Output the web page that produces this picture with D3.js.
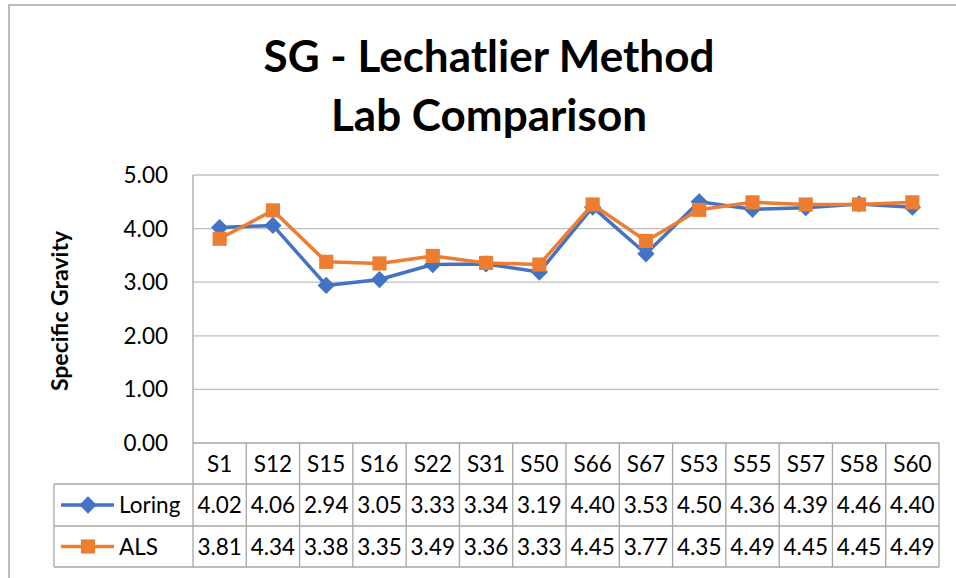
<!DOCTYPE html>
<html>
<head>
<meta charset="utf-8">
<script src="https://cdn.jsdelivr.net/npm/d3@7"></script>
<style>
  body { margin: 0; background: #fff; }
  svg { font-family: Lato, "Open Sans", sans-serif; }
</style>
</head>
<body>
<svg width="956" height="578"></svg>
<script>
var samples = ["S1", "S12", "S15", "S16", "S22", "S31", "S50", "S66", "S67", "S53", "S55", "S57", "S58", "S60"];
var loring = [4.02, 4.06, 2.94, 3.05, 3.33, 3.34, 3.19, 4.40, 3.53, 4.50, 4.36, 4.39, 4.46, 4.40];
var als = [3.81, 4.34, 3.38, 3.35, 3.49, 3.36, 3.33, 4.45, 3.77, 4.35, 4.49, 4.45, 4.45, 4.49];
var yTicks = [0, 1, 2, 3, 4, 5];

var series = [
  { name: "Loring", values: loring, color: "#4472C4", marker: "diamond" },
  { name: "ALS", values: als, color: "#ED7D31", marker: "square" }
];

var svg = d3.select("svg");
var plotL = 193, plotR = 939, plotT = 175, plotB = 443;
var rowY = [443, 484, 526, 567];
var legendLeft = 54;
var gridColor = "#bfbfbf", tableColor = "#a6a6a6";
var fs = 22.5;

// chart border (runs off the right and bottom edge)
svg.append("rect")
  .attr("x", 9).attr("y", 5)
  .attr("width", 1000).attr("height", 1000)
  .attr("fill", "none")
  .attr("stroke", "#a6a6a6")
  .attr("stroke-width", 1.5);

// title
var title = svg.append("text")
  .attr("text-anchor", "middle")
  .attr("font-weight", "bold")
  .attr("font-size", 44)
  .attr("fill", "#000");
title.append("tspan").attr("x", 489).attr("y", 72).text("SG - Lechatlier Method");
title.append("tspan").attr("x", 489).attr("y", 131).text("Lab Comparison");

var x = d3.scaleBand().domain(samples).range([plotL, plotR]);
var y = d3.scaleLinear().domain([0, 5]).range([plotB, plotT]);

// gridlines
svg.append("g")
  .selectAll("line")
  .data(yTicks.filter(function(d) { return d > 0; }))
  .enter()
  .append("line")
  .attr("x1", plotL).attr("x2", plotR)
  .attr("y1", function(d) { return y(d); })
  .attr("y2", function(d) { return y(d); })
  .attr("stroke", gridColor)
  .attr("stroke-width", 1.3);

// y axis labels
svg.append("g")
  .selectAll("text")
  .data(yTicks)
  .enter()
  .append("text")
  .attr("x", 168)
  .attr("y", function(d) { return y(d) + 8; })
  .attr("text-anchor", "end")
  .attr("font-size", fs)
  .text(function(d) { return d3.format(".2f")(d); });

svg.append("text")
  .attr("transform", "translate(68,311) rotate(-90)")
  .attr("text-anchor", "middle")
  .attr("font-weight", "bold")
  .attr("font-size", 23)
  .text("Specific Gravity");

// table lines
var tbl = svg.append("g").attr("stroke", tableColor).attr("stroke-width", 1.3);
tbl.append("line").attr("x1", plotL).attr("x2", plotL).attr("y1", plotT).attr("y2", rowY[3]);
tbl.append("line").attr("x1", plotL).attr("x2", plotR).attr("y1", rowY[0]).attr("y2", rowY[0]);
[1, 2, 3].forEach(function(i) {
  tbl.append("line").attr("x1", legendLeft).attr("x2", plotR).attr("y1", rowY[i]).attr("y2", rowY[i]);
});
tbl.append("line").attr("x1", legendLeft).attr("x2", legendLeft).attr("y1", rowY[1]).attr("y2", rowY[3]);
tbl.selectAll(".col")
  .data(samples)
  .enter()
  .append("line")
  .attr("class", "col")
  .attr("x1", function(d) { return x(d) + x.bandwidth(); })
  .attr("x2", function(d) { return x(d) + x.bandwidth(); })
  .attr("y1", rowY[0]).attr("y2", rowY[3]);

// header row
svg.append("g")
  .selectAll("text")
  .data(samples)
  .enter()
  .append("text")
  .attr("x", function(d) { return x(d) + x.bandwidth() / 2; })
  .attr("y", (rowY[0] + rowY[1]) / 2 + 8)
  .attr("text-anchor", "middle")
  .attr("font-size", fs)
  .text(function(d) { return d; });

function drawMarker(g, type, color, size) {
  if (type === "diamond") {
    g.append("path")
      .attr("d", d3.symbol().type(d3.symbolDiamond2).size(size)())
      .attr("fill", color);
  } else {
    var w = Math.sqrt(size);
    g.append("rect")
      .attr("x", -w / 2).attr("y", -w / 2)
      .attr("width", w).attr("height", w)
      .attr("fill", color);
  }
}

var markerSize = { diamond: 190, square: 200 };

var line = d3.line()
  .x(function(d, i) { return x(samples[i]) + x.bandwidth() / 2; })
  .y(function(d) { return y(d); });

series.forEach(function(s, k) {
  svg.append("path")
    .datum(s.values)
    .attr("d", line)
    .attr("fill", "none")
    .attr("stroke", s.color)
    .attr("stroke-width", 3.5)
    .attr("stroke-linejoin", "round");

  svg.append("g")
    .selectAll("g")
    .data(s.values)
    .enter()
    .append("g")
    .attr("transform", function(d, i) {
      return "translate(" + (x(samples[i]) + x.bandwidth() / 2) + "," + y(d) + ")";
    })
    .each(function() { drawMarker(d3.select(this), s.marker, s.color, markerSize[s.marker]); });

  // table row
  var rowMid = (rowY[k + 1] + rowY[k + 2]) / 2;
  svg.append("line")
    .attr("x1", 61).attr("x2", 114)
    .attr("y1", rowMid).attr("y2", rowMid)
    .attr("stroke", s.color).attr("stroke-width", 3.5);
  var lg = svg.append("g").attr("transform", "translate(88," + rowMid + ")");
  drawMarker(lg, s.marker, s.color, markerSize[s.marker]);
  svg.append("text")
    .attr("x", 119).attr("y", rowMid + 8)
    .attr("font-size", fs)
    .text(s.name);

  svg.append("g")
    .selectAll("text")
    .data(s.values)
    .enter()
    .append("text")
    .attr("x", function(d, i) { return x(samples[i]) + x.bandwidth() / 2; })
    .attr("y", rowMid + 8)
    .attr("text-anchor", "middle")
    .attr("font-size", fs)
    .text(function(d) { return d3.format(".2f")(d); });
});
</script>
</body>
</html>
